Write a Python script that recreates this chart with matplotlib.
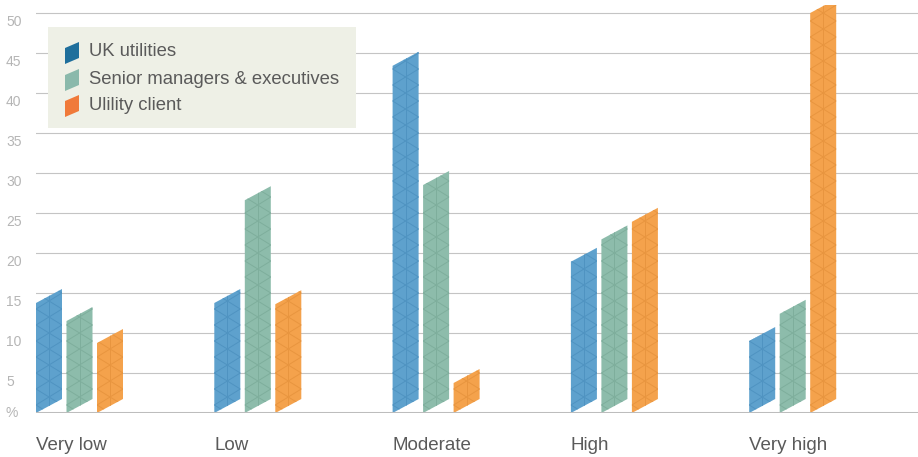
import matplotlib
matplotlib.use('Agg')
import matplotlib.pyplot as plt
from matplotlib.patches import Polygon, Rectangle
from matplotlib.transforms import ScaledTranslation
import numpy as np

######################################################################

categories = ['Very low', 'Low', 'Moderate', 'High', 'Very high']
series_names = ['UK utilities', 'Senior managers & executives', 'Ulility client']

uk_utilities = [13.75, 13.75, 43.4, 18.9, 9.0]
senior_managers = [11.5, 26.6, 28.5, 21.7, 12.4]
utility_client = [8.75, 13.6, 3.75, 23.9, 50.0]

yticks = [0, 5, 10, 15, 20, 25, 30, 35, 40, 45, 50]
ytick_labels = ['%', '5', '10', '15', '20', '25', '30', '35', '40', '45', '50']

bar_colors = ['#5ea1cd', '#8dbcab', '#f4a24c']
line_colors = ['#4f93c1', '#7eae9c', '#e8953f']
legend_colors = ['#1f6f9c', '#8ab9ab', '#f07a3a']

######################################################################

W, H = 918, 457
plt.rcParams['font.family'] = ['Liberation Sans', 'DejaVu Sans']

fig = plt.figure(figsize = (W / 100, H / 100), dpi = 100)
ax = fig.add_axes([36 / W, 1 - 413 / H, 1 - 36 / W, 408 / H])

ax.set_xlim(0, 882 / 178.3)
ax.set_ylim(0, 51)

bar_w = 26 / 178.3
bar_pitch = 30.5 / 178.3
slant = 1.75
half = bar_w / 2

for s, values in enumerate([uk_utilities, senior_managers, utility_client]):
    for i, v in enumerate(values):
        x0 = i + s * bar_pitch
        poly = Polygon([(x0, 0), (x0 + bar_w, slant), (x0 + bar_w, v + slant), (x0, v)],
                       closed = True, facecolor = bar_colors[s], edgecolor = 'none', zorder = 3)
        ax.add_patch(poly)
        # triangular lattice pattern
        xc = x0 + half
        ln, = ax.plot([xc, xc], [0, v + slant], color = line_colors[s], lw = 0.7, zorder = 4)
        ln.set_clip_path(poly)
        for k in np.arange(-4, v + 6, 2):
            for sign in (1, -1):
                ln, = ax.plot([x0, x0 + bar_w], [k - sign * 1.0, k + sign * 1.0],
                              color = line_colors[s], lw = 0.7, zorder = 4)
                ln.set_clip_path(poly)

ax.set_yticks(yticks, ytick_labels)
ax.tick_params(axis = 'y', length = 0, pad = 21.6, labelsize = 10, labelcolor = '#b5b5b5')
off = ScaledTranslation(0, -1.5 / 72, fig.dpi_scale_trans)
for lab, t in zip(ax.get_yticklabels(), yticks):
    lab.set_horizontalalignment('left')
    if t == 0:
        lab.set_verticalalignment('center')
    else:
        lab.set_verticalalignment('top')
        lab.set_transform(lab.get_transform() + off)

ax.set_xticks([])
ax.grid(axis = 'y', color = '#c4c4c4', lw = 0.8, zorder = 0)
ax.axhline(0, color = '#bdbdbd', lw = 2.2, zorder = 5)
for sp in ax.spines.values():
    sp.set_visible(False)

for i, c in enumerate(categories):
    ax.text(i, -4.1, c, ha = 'left', va = 'center', fontsize = 13.5, color = '#5a5a5a',
            clip_on = False)

######################################################################

def fx(x):
    return x / W

def fy(y):
    return 1 - y / H

fig.patches.append(Rectangle((fx(48), fy(128)), fx(356) - fx(48), (128 - 27) / H,
                             transform = fig.transFigure, facecolor = '#eef0e6',
                             edgecolor = 'none', zorder = 10))

for s, (name, yc) in enumerate(zip(series_names, [52, 79, 105])):
    pts = [(fx(65), fy(yc + 12)), (fx(79), fy(yc + 6)), (fx(79), fy(yc - 10)), (fx(65), fy(yc - 4))]
    fig.patches.append(Polygon(pts, closed = True, transform = fig.transFigure,
                               facecolor = legend_colors[s], edgecolor = 'none', zorder = 11))
    fig.text(fx(89), fy(yc), name, ha = 'left', va = 'center', fontsize = 13.3,
             color = '#5a5a5a', zorder = 12)

fig.savefig('out.png', dpi = 100)
